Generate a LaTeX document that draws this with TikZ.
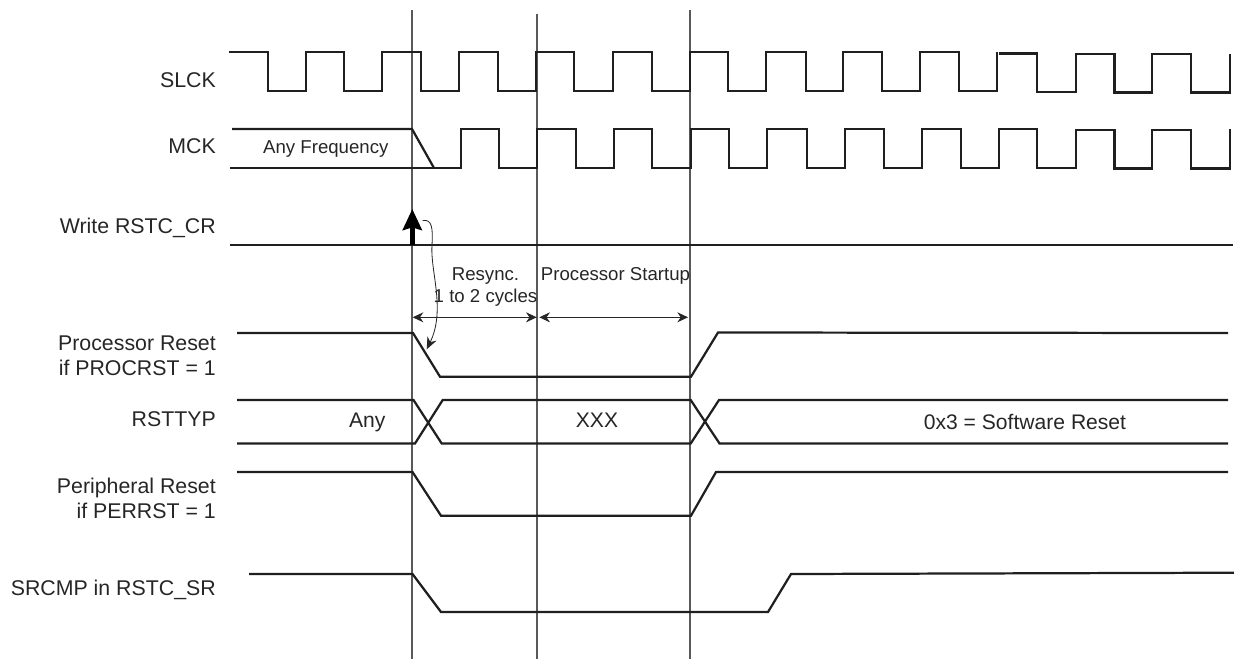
\documentclass[tikz,border=0pt]{standalone}
\usepackage{fontspec}
\setmainfont{Liberation Sans}
\usetikzlibrary{arrows.meta,positioning,calc}

\begin{document}
\begin{tikzpicture}[
  x=0.03cm, y=-0.03cm,
  sig/.style={draw=black!88, line width=1.9pt, line join=miter},
  vline/.style={draw=black!65, line width=0.9pt},
  lbl/.style={font=\fontsize{18.2}{21.5}\selectfont, align=right, anchor=east, text=black!85, inner sep=0pt},
  txt/.style={font=\fontsize{15.9}{19.2}\selectfont, align=center, text=black!85, inner sep=0pt},
  bigtxt/.style={txt, font=\fontsize{18}{21}\selectfont},
  span/.style={{Stealth[length=3.2mm,width=3mm]}-{Stealth[length=3.2mm,width=3mm]}, draw=black!85, line width=0.7pt}
]
  \useasboundingbox (0,0) rectangle (1234,659);

  % cursors
  \coordinate (c1top) at (412,10);
  \coordinate (c1bot) at (412,659);
  \coordinate (c2top) at (537,14);
  \coordinate (c2bot) at (537,659);
  \coordinate (c3top) at (690,10);
  \coordinate (c3bot) at (690,659);
  \draw[vline] (c1top) -- (c1bot);
  \draw[vline] (c2top) -- (c2bot);
  \draw[vline] (c3top) -- (c3bot);

  % clocks
  \draw[sig] (229,52) -- (268,52) -- (268,91) -- (306,91) -- (306,52) -- (344,52) -- (344,91) -- (382,91)
    -- (382,52) -- (421,52) -- (421,91) -- (459,91) -- (459,52) -- (498,52) -- (498,91) -- (536,91)
    -- (536,52) -- (574,52) -- (574,91) -- (613,91) -- (613,52) -- (652,52) -- (652,91) -- (690,91)
    -- (690,52) -- (728,52) -- (728,91) -- (766,91) -- (766,52) -- (806,52) -- (806,91) -- (843,91)
    -- (843,52) -- (882,52) -- (882,91) -- (920,91) -- (920,52) -- (959,52) -- (959,91) -- (997,91) -- (997,52);
  \draw[sig] (999,53.5) -- (1037,53.5) -- (1037,92) -- (1076,92) -- (1076,54) -- (1114.5,54) -- (1114.5,92.5)
    -- (1152,92.5) -- (1152,54) -- (1191,54) -- (1191,92.5) -- (1230,92.5) -- (1230,54);

  \draw[sig] (232,129) -- (412,129) -- (434,168);
  \draw[sig] (230,168) -- (461,168) -- (461,129) -- (499,129) -- (499,168) -- (537,168) -- (537,129)
    -- (576,129) -- (576,168) -- (614,168) -- (614,129) -- (652,129) -- (652,168) -- (691,168)
    -- (691,129) -- (729,129) -- (729,168) -- (767,168) -- (767,129) -- (807,129) -- (807,168)
    -- (845,168) -- (845,129) -- (884,129) -- (884,168) -- (922,168) -- (922,129) -- (961,129)
    -- (961,168) -- (999,168) -- (999,129) -- (1037,129) -- (1037,168) -- (1076,168) -- (1076,130)
    -- (1114.5,130) -- (1114.5,168.5) -- (1152,168.5) -- (1152,130) -- (1191,130) -- (1191,168.5)
    -- (1230,168.5) -- (1230,129);

  % write strobe
  \coordinate (wrbase) at (412.3,245);
  \coordinate (wrtip) at (412.3,209);
  \draw[sig] (230,245) -- (1233,245);
  \draw[-{Stealth[length=6.3mm,width=5.7mm,inset=0.8mm]}, draw=black, line width=4.4pt] (wrbase) -- (wrtip);

  % reset lines
  \draw[sig] (237,333) -- (413,333) -- (440,376.7) -- (691,376.7) -- (718,332.5) -- (1228,333);
  \draw[sig] (237,400) -- (413.5,400) -- (441.7,443.5) -- (690.7,443.5) -- (719,400) -- (1228,400);
  \draw[sig] (237,443.5) -- (415,443.5) -- (442.7,400) -- (690.7,400) -- (719.5,443.5) -- (1228,443.5);
  \draw[sig] (237,472) -- (412.5,472) -- (441,515.7) -- (691,515.7) -- (716,472) -- (1228,472);
  \draw[sig] (249,574) -- (412.5,574) -- (441,612) -- (768,612) -- (791,574) -- (1234,572.7);

  % timing spans
  \coordinate (s1a) at (412.7,317.3);
  \coordinate (s1b) at (536.7,317.3);
  \coordinate (s2a) at (539.3,317.3);
  \coordinate (s2b) at (688,317.3);
  \draw[span] (s1a) -- (s1b);
  \draw[span] (s2a) -- (s2b);

  % cause arrow
  \coordinate (causefrom) at (422.7,220.5);
  \coordinate (causeto) at (426.7,349.3);
  \draw[-{Stealth[length=3.6mm,width=3mm]}, draw=black!85, line width=0.7pt] (causefrom)
    .. controls (432,219) and (433,228) .. (432,245)
    .. controls (430,270) and (446,310) .. (causeto);

  % signal names
  \node[lbl] (slck) at (216,80) {SLCK};
  \node[lbl] (mck) at (216,146) {MCK};
  \node[lbl] (wr) at (216,228) {Write RSTC\_CR};
  \node[lbl] (procrst) at (216,356) {Processor Reset\\if PROCRST = 1};
  \node[lbl] (rsttyp) at (216,419) {RSTTYP};
  \node[lbl] (perrst) at (216,498) {Peripheral Reset\\if PERRST = 1};
  \node[lbl] (srcmp) at (216,590) {SRCMP in RSTC\_SR};

  % texts inside the signals
  \node[txt] (anyfreq) at (325.8,149) {Any Frequency};
  \node[bigtxt] (any) at (367.3,422) {Any};
  \node[bigtxt] (xxx) at (597,420) {XXX};
  \node[bigtxt] (swrst) at (1025,422) {0x3 = Software Reset};
  \node[txt] (resync) at (485.5,287) {Resync.\\1 to 2 cycles};
  \node[txt] (startup) at (615.5,276) {Processor Startup};
\end{tikzpicture}
\end{document}
